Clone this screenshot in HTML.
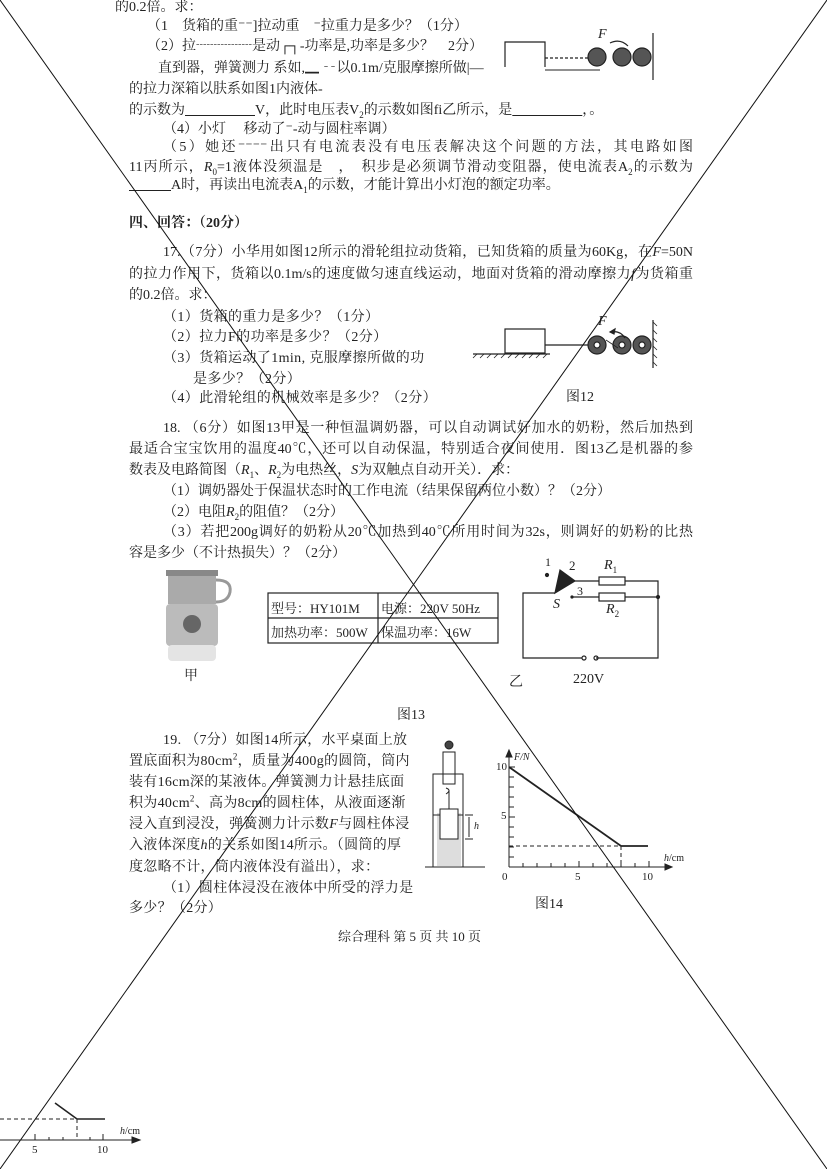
<!DOCTYPE html>
<html><head><meta charset="utf-8"><style>
body{margin:0;background:#fff}
#p{position:relative;width:827px;height:1169px;overflow:hidden;background:#fff;font-family:"Liberation Serif","Noto Serif CJK SC",serif;color:#222}
.l{position:absolute;font-size:14px;line-height:18px;white-space:nowrap}
.j{position:absolute;font-size:14px;line-height:18px;text-align:justify;text-align-last:justify}
i{font-style:italic}
sub,sup{line-height:0}
svg{position:absolute;left:0;top:0}
</style></head><body><div id="p">
<div class="l" style="left:115px;top:-1px">的0.2倍。求：</div>
<div class="l" style="left:147px;top:18px">（1　货箱的重⁻⁻]拉动重　⁻拉重力是多少？（1分）</div>
<div class="l" style="left:147px;top:38px">（2）拉┈┈┈┈是动┌┐-功率是,功率是多少？　2分）</div>
<div class="l" style="left:158px;top:60px">直到器，弹簧测力 系如,▁ ╌以0.1m/克服摩擦所做|—</div>
<div class="l" style="left:129px;top:81px">的拉力深箱以肤系如图1内液体-</div>
<div class="l" style="left:129px;top:102px">的示数为<u>　　　　　</u>V，此时电压表V<sub style="font-size:9px">2</sub>的示数如图fi乙所示，是<u>　　　　　</u>，。</div>
<div class="l" style="left:163px;top:121px">（4）小灯　 移动了⁻-动与圆柱率调）</div>
<div class="j" style="left:163px;top:139px;width:530px">（5）她还⁻⁻⁻⁻出只有电流表没有电压表解决这个问题的方法，其电路如图</div>
<div class="j" style="left:129px;top:159px;width:564px">11丙所示，<i>R</i><sub style="font-size:9px">0</sub>=1液体没须温是　，　积步是必须调节滑动变阻器，使电流表A<sub style="font-size:9px">2</sub>的示数为</div>
<div class="l" style="left:129px;top:177px"><u>　　　</u>A时，再读出电流表A<sub style="font-size:9px">1</sub>的示数，才能计算出小灯泡的额定功率。</div>

<div class="l" style="left:129px;top:215px;font-weight:bold">四、回答：（20分）</div>
<div class="j" style="left:163px;top:244px;width:530px">17.（7分）小华用如图12所示的滑轮组拉动货箱，已知货箱的质量为60Kg，在<i>F</i>=50N</div>
<div class="j" style="left:129px;top:266px;width:564px">的拉力作用下，货箱以0.1m/s的速度做匀速直线运动，地面对货箱的滑动摩擦力<i>f</i>为货箱重</div>
<div class="l" style="left:129px;top:287px">的0.2倍。求：</div>
<div class="l" style="left:163px;top:309px;letter-spacing:0.4px">（1）货箱的重力是多少？（1分）</div>
<div class="l" style="left:163px;top:329px;letter-spacing:0.4px">（2）拉力F的功率是多少？（2分）</div>
<div class="l" style="left:163px;top:350px;letter-spacing:0.4px">（3）货箱运动了1min, 克服摩擦所做的功</div>
<div class="l" style="left:193px;top:371px;letter-spacing:0.4px">是多少？（2分）</div>
<div class="l" style="left:163px;top:390px;letter-spacing:0.4px">（4）此滑轮组的机械效率是多少？（2分）</div>
<div class="l" style="left:566px;top:389px">图12</div>

<div class="j" style="left:163px;top:420px;width:530px">18. （6分）如图13甲是一种恒温调奶器，可以自动调试好加水的奶粉，然后加热到</div>
<div class="j" style="left:129px;top:441px;width:564px">最适合宝宝饮用的温度40℃，还可以自动保温，特别适合夜间使用．图13乙是机器的参</div>
<div class="l" style="left:129px;top:462px">数表及电路简图（<i>R</i><sub style="font-size:9px">1</sub>、<i>R</i><sub style="font-size:9px">2</sub>为电热丝，<i>S</i>为双触点自动开关）．求：</div>
<div class="l" style="left:163px;top:483px">（1）调奶器处于保温状态时的工作电流（结果保留两位小数）？（2分）</div>
<div class="l" style="left:163px;top:504px">（2）电阻<i>R</i><sub style="font-size:9px">2</sub>的阻值？（2分）</div>
<div class="j" style="left:163px;top:524px;width:530px">（3）若把200g调好的奶粉从20℃加热到40℃所用时间为32s，则调好的奶粉的比热</div>
<div class="l" style="left:129px;top:545px">容是多少（不计热损失）？（2分）</div>

<div class="l" style="left:271px;top:600px;font-size:13px">型号：HY101M</div>
<div class="l" style="left:381px;top:600px;font-size:13px">电源：220V 50Hz</div>
<div class="l" style="left:271px;top:624px;font-size:13px">加热功率：500W</div>
<div class="l" style="left:381px;top:624px;font-size:13px">保温功率：16W</div>
<div class="l" style="left:184px;top:668px">甲</div>
<div class="l" style="left:509px;top:674px">乙</div>
<div class="l" style="left:573px;top:671px">220V</div>
<div class="l" style="left:397px;top:707px">图13</div>

<div class="l" style="left:163px;top:732px;letter-spacing:0.3px">19. （7分）如图14所示，水平桌面上放</div>
<div class="l" style="left:129px;top:753px;letter-spacing:0.3px">置底面积为80cm<sup style="font-size:9px">2</sup>，质量为400g的圆筒，筒内</div>
<div class="l" style="left:129px;top:774px;letter-spacing:0.3px">装有16cm深的某液体。弹簧测力计悬挂底面</div>
<div class="l" style="left:129px;top:795px;letter-spacing:0.3px">积为40cm<sup style="font-size:9px">2</sup>、高为8cm的圆柱体，从液面逐渐</div>
<div class="l" style="left:129px;top:816px;letter-spacing:0.3px">浸入直到浸没，弹簧测力计示数<i>F</i>与圆柱体浸</div>
<div class="l" style="left:129px;top:837px;letter-spacing:0.3px">入液体深度<i>h</i>的关系如图14所示。（圆筒的厚</div>
<div class="l" style="left:129px;top:859px;letter-spacing:0.3px">度忽略不计，筒内液体没有溢出），求：</div>
<div class="l" style="left:163px;top:880px;letter-spacing:0.3px">（1）圆柱体浸没在液体中所受的浮力是</div>
<div class="l" style="left:129px;top:900px;letter-spacing:0.3px">多少？（2分）</div>
<div class="l" style="left:535px;top:896px">图14</div>
<div class="l" style="left:338px;top:928px;font-size:13px">综合理科 第 5 页 共 10 页</div>

<div class="l" style="left:598px;top:313px;font-style:italic">F</div>
<div class="l" style="left:598px;top:26px;font-style:italic">F</div>
<div class="l" style="left:545px;top:553px;font-size:12px">1</div>
<div class="l" style="left:569px;top:557px;font-size:13px">2</div>
<div class="l" style="left:577px;top:582px;font-size:12px">3</div>
<div class="l" style="left:553px;top:596px;font-style:italic">S</div>
<div class="l" style="left:604px;top:557px;font-style:italic">R<sub style="font-size:9px;font-style:normal">1</sub></div>
<div class="l" style="left:606px;top:601px;font-style:italic">R<sub style="font-size:9px;font-style:normal">2</sub></div>
<div class="l" style="left:496px;top:758px;font-size:11px">10</div>
<div class="l" style="left:501px;top:807px;font-size:11px">5</div>
<div class="l" style="left:502px;top:868px;font-size:11px">0</div>
<div class="l" style="left:575px;top:868px;font-size:11px">5</div>
<div class="l" style="left:642px;top:868px;font-size:11px">10</div>
<div class="l" style="left:514px;top:749px;font-size:10px;font-style:italic">F/N</div>
<div class="l" style="left:664px;top:850px;font-size:10px"><i>h</i>/cm</div>
<div class="l" style="left:474px;top:818px;font-size:10px;font-style:italic">h</div>
<div class="l" style="left:32px;top:1141px;font-size:11px">5</div>
<div class="l" style="left:97px;top:1141px;font-size:11px">10</div>
<div class="l" style="left:120px;top:1123px;font-size:10px"><i>h</i>/cm</div>

<svg width="827" height="1169" viewBox="0 0 827 1169" fill="none" stroke="#222">
<g stroke-width="1.2">
<path d="M505 67 V42 H545 V67"/><path d="M545 58 H595" stroke-dasharray="3 2"/>
<path d="M545 70 H600" stroke-width="1"/>
<circle cx="597" cy="57" r="9" fill="#555"/><circle cx="622" cy="57" r="9" fill="#555"/><circle cx="642" cy="57" r="9" fill="#555"/>
<path d="M653 33 V80"/><path d="M610 43 Q620 38 628 46"/>
</g>
<g stroke-width="1.2">
<rect x="505" y="329" width="40" height="24"/><path d="M473 354 H550"/>
<path d="M473 358 l4 -4 M480 358 l4 -4 M487 358 l4 -4 M494 358 l4 -4 M501 358 l4 -4 M508 358 l4 -4 M515 358 l4 -4 M522 358 l4 -4 M529 358 l4 -4 M536 358 l4 -4 M543 358 l4 -4" stroke-width="0.8"/>
<path d="M545 345 H590"/>
<circle cx="597" cy="345" r="9" fill="#555"/><circle cx="622" cy="345" r="9" fill="#555"/><circle cx="642" cy="345" r="9" fill="#555"/>
<circle cx="597" cy="345" r="3" fill="#fff"/><circle cx="622" cy="345" r="3" fill="#fff"/><circle cx="642" cy="345" r="3" fill="#fff"/>
<path d="M653 320 V368"/>
<path d="M653 322 l4 4 M653 330 l4 4 M653 338 l4 4 M653 346 l4 4 M653 354 l4 4 M653 362 l4 4" stroke-width="0.8"/>
<path d="M606 340 L618 348" stroke-width="0.8"/>
<path d="M625 338 Q620 330 610 332"/><path d="M610 332 l5 -3 l-1 5z" fill="#222"/>
</g>
<g stroke="none">
<rect x="168" y="574" width="48" height="30" fill="#aaa"/>
<rect x="166" y="570" width="52" height="6" fill="#888"/>
<path d="M216 580 q16 0 14 12 q-2 10 -14 10" stroke="#999" stroke-width="3" fill="none"/>
<rect x="166" y="604" width="52" height="42" rx="4" fill="#bbb"/>
<circle cx="192" cy="624" r="9" fill="#666"/>
<rect x="168" y="645" width="48" height="16" rx="4" fill="#e4e4e4"/>
</g>
<g stroke-width="1.2"><rect x="268" y="593" width="230" height="50"/><path d="M268 618 H498 M378 593 V643"/></g>
<g stroke-width="1.2">
<path d="M555 593 H523 V658 H582 M596 658 H658 V581 H625 M599 581 H575 M572 597 H599 M625 597 H658"/>
<rect x="599" y="577" width="26" height="8"/><rect x="599" y="593" width="26" height="8"/>
<path d="M555 593 L560 570 L575 581 Z" fill="#222"/>
<circle cx="584" cy="658" r="2"/><circle cx="596" cy="658" r="2"/>
<circle cx="547" cy="575" r="1.5" fill="#222"/><circle cx="572" cy="597" r="1" fill="#222"/><circle cx="658" cy="597" r="1.5" fill="#222"/>
</g>
<g stroke-width="1">
<path d="M425 867 H485"/><path d="M433 867 V774 H463 V867"/>
<rect x="437" y="813" width="24" height="53" fill="#ddd" stroke="none"/>
<path d="M433 815 H463"/>
<rect x="440" y="809" width="18" height="30" fill="#fff"/>
<path d="M449 809 V790"/><rect x="443" y="752" width="12" height="32"/><circle cx="449" cy="745" r="4" fill="#444"/>
<path d="M446 788 q6 2 0 6"/>
<path d="M465 815 H473 M465 839 H473 M469 817 V837"/>
</g>
<g stroke-width="1">
<path d="M509 867 V754"/><path d="M509 750 l-3 7 h6z" fill="#222"/>
<path d="M509 867 H668"/><path d="M672 867 l-7 -3 v6z" fill="#222"/>
<path d="M509 767 h6 M509 777 h5 M509 787 h5 M509 797 h5 M509 807 h5 M509 817 h6 M509 827 h5 M509 837 h5 M509 847 h5 M509 857 h5"/>
<path d="M523 867 v-4 M537 867 v-4 M551 867 v-4 M565 867 v-4 M579 867 v-6 M593 867 v-4 M607 867 v-4 M621 867 v-4 M635 867 v-4 M649 867 v-6"/>
<path d="M509 767 L621 846 H648" stroke-width="1.8"/>
<path d="M509 846 H621 V867" stroke-dasharray="4 3"/>
</g>
<g stroke-width="1">
<path d="M0 1119 H77 V1140" stroke-dasharray="4 3"/>
<path d="M55 1103 L77 1119 H105" stroke-width="1.6"/>
<path d="M0 1140 H135"/><path d="M140 1140 l-8 -3 v6z" fill="#222"/>
<path d="M35 1140 v-6 M49 1140 v-3 M63 1140 v-3 M90 1140 v-3 M103 1140 v-6"/>
</g>
<path d="M0 0 L827 1169 M827 0 L0 1169" stroke="#111" stroke-width="1"/>
</svg>
</div></body></html>
